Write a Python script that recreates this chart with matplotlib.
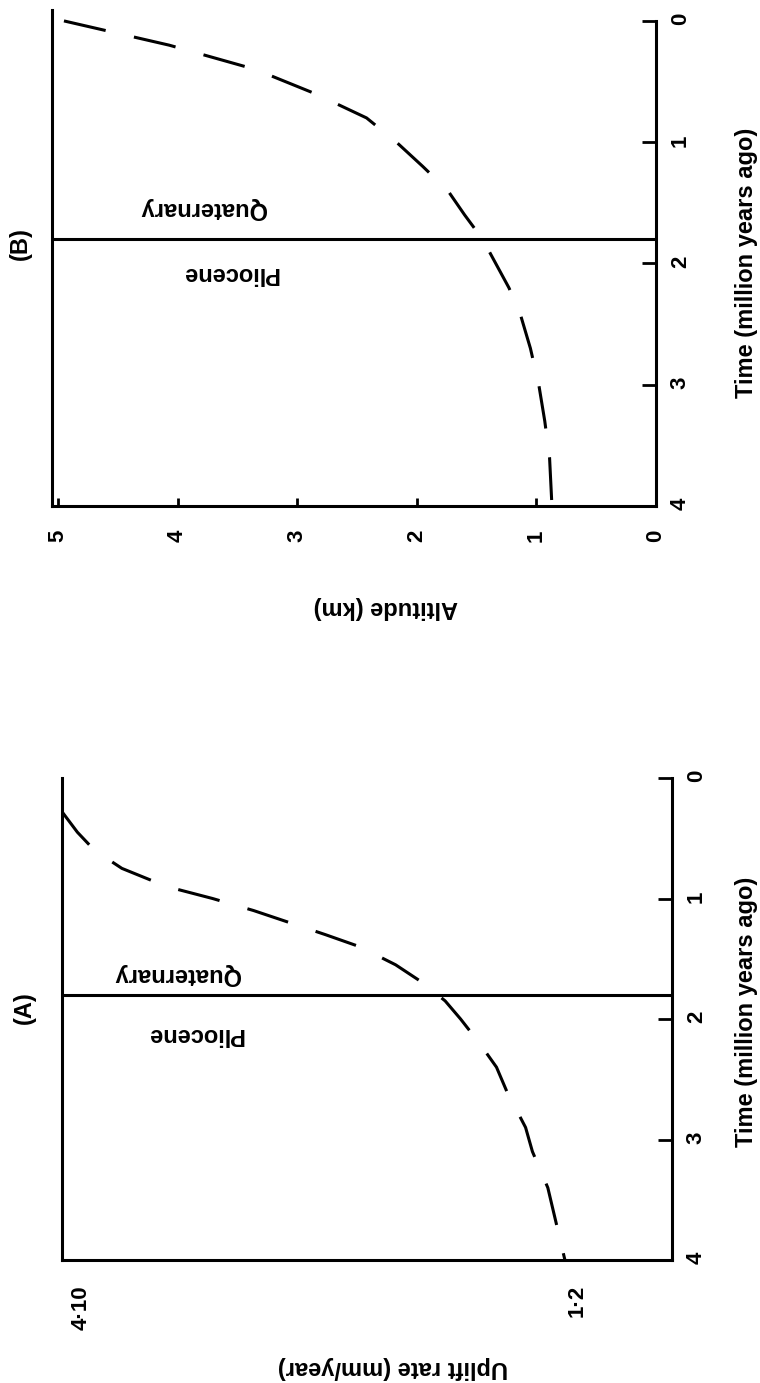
import matplotlib.pyplot as plt

# Panel A: uplift rate (mm/year) against time (million years ago)
uplift_time = [0.28, 0.45, 0.6, 0.75, 0.9, 1.0, 1.1, 1.2, 1.3, 1.4, 1.55,
               1.7, 1.85, 2.0, 2.2, 2.4, 2.6, 2.9, 3.1, 3.4, 3.7, 4.0]
uplift_rate = [4.21, 4.12, 4.02, 3.86, 3.60, 3.33, 3.09, 2.88, 2.67, 2.47, 2.26,
               2.10, 1.97, 1.88, 1.77, 1.67, 1.61, 1.50, 1.46, 1.37, 1.32, 1.27]
uplift_ticks = [4.1, 1.2]
uplift_ticklabels = ["4·10", "1·2"]

# Panel B: altitude (km) against time (million years ago)
altitude_time = [0.0, 0.2, 0.4, 0.6, 0.8, 1.0, 1.2, 1.4, 1.6, 1.8, 2.0,
                 2.2, 2.4, 2.7, 3.0, 3.3, 3.6, 4.0]
altitude_km = [4.95, 4.07, 3.35, 2.85, 2.42, 2.17, 1.95, 1.74, 1.60, 1.45, 1.34,
               1.23, 1.14, 1.05, 0.98, 0.93, 0.89, 0.87]
altitude_ticks = [0, 1, 2, 3, 4, 5]

time_ticks = [0, 1, 2, 3, 4]
pliocene_end = 1.8

W, H = 760, 1383
LW = 2.2

plt.rcParams["font.family"] = ["Liberation Sans", "DejaVu Sans"]
plt.rcParams["font.weight"] = "bold"

fig = plt.figure(figsize=(W / 100, H / 100), dpi=100)


def box(left, top, right, bottom):
    # axes placed by pixel edges
    return fig.add_axes([left / W, 1 - bottom / H, (right - left) / W, (bottom - top) / H])


def put(x, y, s, **kw):
    fig.text(x / W, 1 - y / H, s, ha="center", va="center", **kw)


def panel(ax, t, v, xlim, ylim):
    ax.plot(v, t, color="black", lw=LW, dashes=(14, 9.5), dash_capstyle="butt")
    ax.axhline(pliocene_end, color="black", lw=LW)
    ax.set_xlim(*xlim)
    ax.set_ylim(*ylim)
    ax.spines["top"].set_visible(False)
    for s in ("left", "right", "bottom"):
        ax.spines[s].set_linewidth(LW)
    ax.spines["right"].set_bounds(0, 4)
    ax.yaxis.tick_right()
    ax.set_yticks(time_ticks)
    ax.tick_params(axis="y", direction="in", length=10, width=2, pad=10,
                   labelsize=16, labelrotation=90)


# (B) altitude
axb = box(52, 10, 656, 506)
panel(axb, altitude_time, altitude_km, (5.05, 0), (4, -0.09))
axb.set_xticks(altitude_ticks)
axb.tick_params(axis="x", direction="in", length=6, width=2, pad=17,
                labelsize=16, labelrotation=90)
axb.text(3.79, 1.55, "Quaternary", rotation=180, ha="center", va="center", fontsize=17)
axb.text(3.56, 2.08, "Pliocene", rotation=180, ha="center", va="center", fontsize=17)

# (A) uplift rate
axa = box(62, 778, 672, 1260)
panel(axa, uplift_time, uplift_rate, (4.21, 0.644), (4, 0))
axa.set_xticks(uplift_ticks, uplift_ticklabels)
axa.tick_params(axis="x", length=0, pad=18, labelsize=16, labelrotation=90)
axa.text(3.54, 1.63, "Quaternary", rotation=180, ha="center", va="center", fontsize=17)
axa.text(3.43, 2.13, "Pliocene", rotation=180, ha="center", va="center", fontsize=17)

# panel letters and axis titles
put(20, 244, "(B)", rotation=90, fontsize=17)
put(24, 1008, "(A)", rotation=90, fontsize=17)
put(386, 607, "Altitude (km)", rotation=180, fontsize=17)
put(393, 1367, "Uplift rate (mm/year)", rotation=180, fontsize=17)
put(746, 263, "Time (million years ago)", rotation=90, fontsize=17)
put(746, 1012, "Time (million years ago)", rotation=90, fontsize=17)

fig.savefig("out.png", dpi=100)
